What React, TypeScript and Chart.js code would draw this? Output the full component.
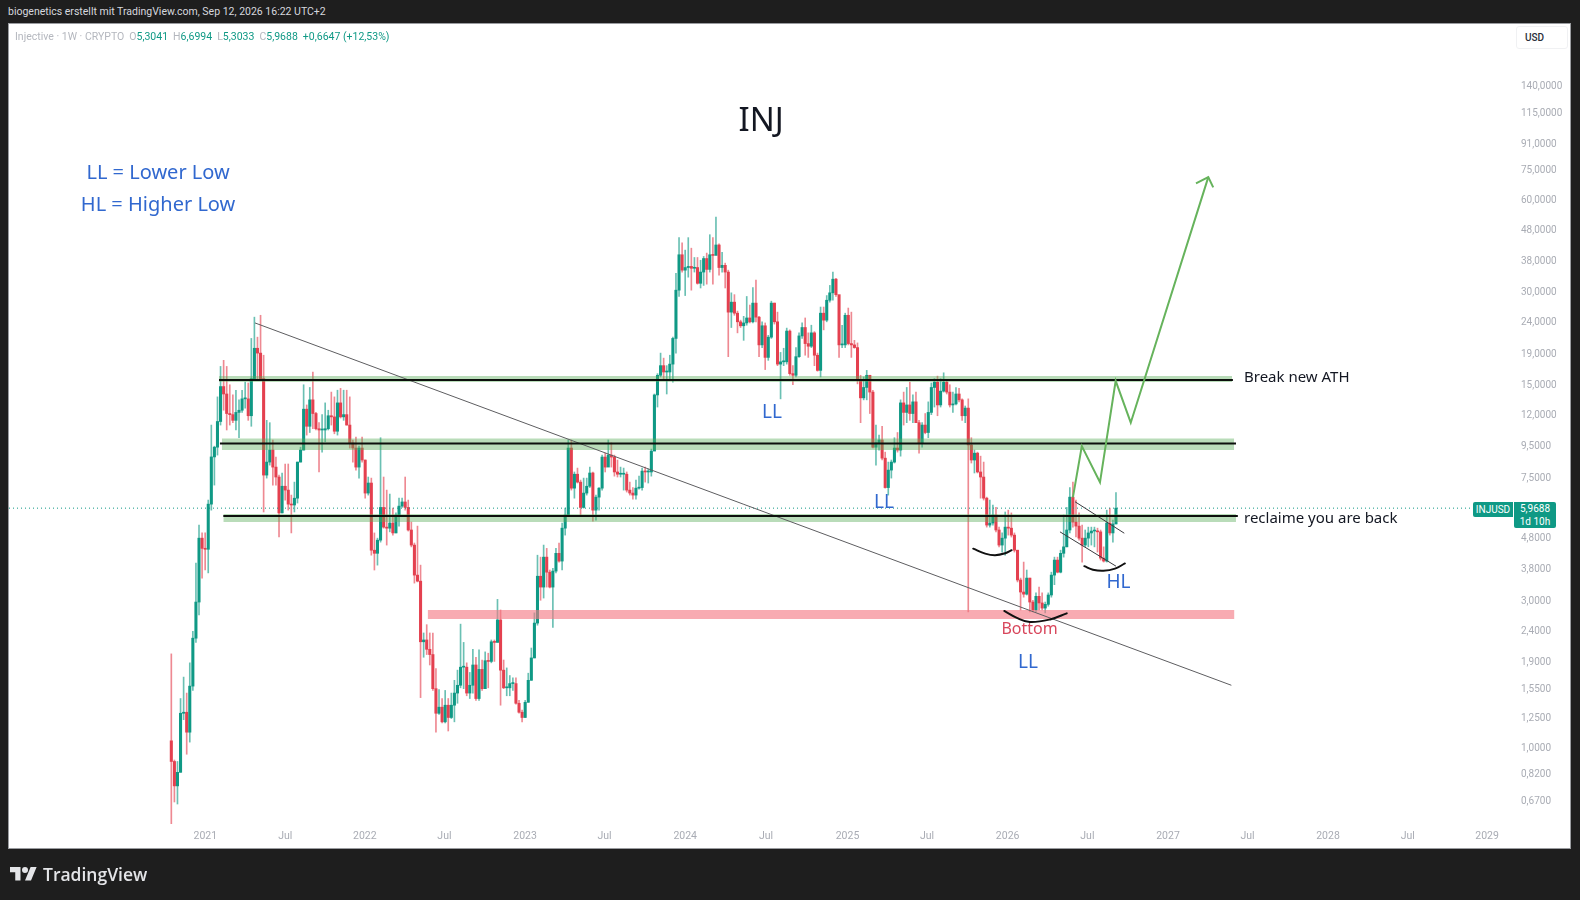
import React, { useEffect, useRef } from "react";
import { Chart, registerables } from "chart.js";

Chart.register(...registerables);

// weekly INJUSD candles (each open is the close before it)
const firstOpen = 1.05;
const closes = [
  0.90, 0.75, 0.83, 1.29, 1.30, 1.12, 1.58, 2.26, 2.96, 4.77,
  4.42, 4.39, 6.15, 8.75, 9.41, 11.4, 14.8, 14.0, 12.1, 12.0,
  11.5, 12.2, 12.4, 13.5, 13.5, 11.9, 15.7, 19.7, 19.0, 15.7,
  7.64, 8.42, 9.21, 8.11, 7.53, 5.76, 7.03, 6.83, 6.15, 6.11,
  6.43, 8.42, 9.21, 12.5, 11.0, 13.4, 12.1, 10.8, 10.7, 10.7,
  10.8, 11.9, 11.8, 10.6, 13.1, 11.8, 12.0, 11.1, 9.72, 9.35,
  8.11, 9.35, 8.55, 6.68, 7.2, 4.36, 4.26, 4.7, 6.0, 5.18,
  5.14, 5.34, 4.96, 5.67, 6.06, 6.25, 6.0, 5.07, 4.53, 3.62,
  3.46, 2.2, 2.23, 2.08, 2.0, 1.55, 1.29, 1.35, 1.21, 1.37,
  1.25, 1.37, 1.5, 1.59, 1.82, 1.82, 1.5, 1.59, 1.85, 1.44,
  1.79, 1.55, 1.91, 1.9, 2.2, 2.19, 2.59, 1.78, 1.56, 1.56,
  1.61, 1.61, 1.39, 1.3, 1.25, 1.4, 1.65, 1.95, 2.53, 3.59,
  3.31, 4.14, 3.7, 3.31, 3.73, 4.26, 4.02, 5.14, 5.67, 9.35,
  6.93, 7.69, 7.25, 6.0, 6.68, 7.03, 7.76, 5.88, 6.48, 6.93,
  8.74, 8.11, 8.87, 8.74, 7.82, 7.69, 7.69, 7.69, 6.83, 6.68,
  6.58, 6.93, 6.96, 7.87, 7.82, 7.82, 9.14, 13.9, 16.1, 17.3,
  16.5, 16.5, 17.5, 21.2, 30.4, 39.6, 35.3, 36.0, 36.3, 35.8,
  36.0, 32.0, 34.8, 38.5, 35.5, 39.6, 39.4, 42.6, 36.0, 36.6,
  34.8, 25.8, 27.8, 25.6, 24.0, 23.3, 23.8, 24.7, 24.0, 27.6,
  24.85, 20.2, 23.3, 18.4, 21.4, 27.6, 24.0, 17.5, 17.8, 17.8,
  22.4, 16.3, 16.1, 18.5, 21.6, 23, 20.4, 20, 22.1, 18.7,
  16.7, 25.6, 24.3, 28.2, 29.8, 33, 29.4, 20.2, 20.2, 25.2,
  20.4, 20.2, 19.8, 15.6, 13.6, 14.7, 16.1, 14.2, 9.41, 9.72,
  9.93, 8.67, 6.96, 7.93, 8.42, 9.35, 9.21, 13.1, 12.2, 12.9,
  12.1, 13.2, 11.3, 9.72, 11.1, 10.5, 12.2, 14.7, 15.3, 12.9,
  14.3, 15.3, 14.2, 12.9, 13, 14, 13.4, 11.9, 12.6, 9.57,
  8.55, 9, 7.82, 7.53, 6.43, 5.26, 5.34, 5.67, 5.07, 4.53,
  4.77, 5.18, 5.14, 4.88, 4.36, 3.49, 3.19, 3.14, 3.54, 2.96,
  2.79, 3.09, 2.94, 2.83, 2.91, 3.12, 3.62, 4.05, 3.7, 4.26,
  4.47, 5.07, 6.48, 5.38, 5.22, 4.77, 4.53, 4.77, 4.96, 5.03,
  5.03, 5, 4.11, 4.02, 5.34, 4.96, 5.3041, 5.9688,
];
const highs = [
  2.01, 0.91, 0.90, 1.44, 1.69, 1.50, 1.88, 2.38, 3.96, 5.26,
  4.96, 4.96, 6.34, 11.1, 9.48, 13.7, 17.2, 18.0, 17.2, 15.0,
  13.9, 14.4, 13.4, 14.4, 15.3, 15.2, 21.2, 24.85, 21.4, 25.2,
  18.7, 11.5, 11.3, 9.93, 8.74, 7.64, 7.76, 8.3, 8.3, 6.58,
  7.25, 8.42, 9.41, 15.0, 12.9, 14.7, 16.5, 12.2, 11.3, 12.0,
  13.1, 12.4, 14.2, 13.7, 14.4, 14.6, 14.4, 14.4, 13.7, 9.93,
  10.15, 9.48, 10.15, 8.55, 7.53, 7.47, 4.96, 4.77, 10.1, 7.53,
  6.83, 6.63, 5.97, 5.76, 6.43, 6.43, 7.53, 6.34, 5.38, 4.6,
  5.22, 3.9, 2.35, 2.5, 2.35, 2.35, 1.8, 1.54, 1.44, 1.53,
  1.44, 1.5, 1.65, 1.78, 2.51, 2.19, 1.88, 1.75, 2.08, 1.96,
  2.07, 1.92, 2.04, 2.02, 2.23, 2.23, 3.02, 2.79, 1.92, 1.81,
  1.71, 1.68, 1.68, 1.42, 1.32, 1.42, 1.74, 2.1, 2.73, 4.2,
  4.14, 4.53, 4.42, 3.76, 3.81, 4.42, 4.6, 5.34, 5.97, 9.93,
  9.93, 7.82, 8.05, 7.36, 7.47, 7.47, 8.11, 7.82, 6.58, 6.96,
  8.87, 9.0, 9.93, 9.72, 8.87, 8.55, 8.11, 8.05, 7.82, 7.25,
  6.96, 7.36, 7.58, 8.05, 8.11, 7.99, 9.28, 14.0, 16.3, 19.0,
  18.3, 17.3, 18.7, 21.4, 34.5, 45.0, 43.3, 41.0, 45.0, 41.6,
  38.8, 38.8, 38.0, 39.1, 40.1, 46.0, 45.0, 52.5, 43, 40.3,
  37.2, 35.3, 29.8, 29.4, 26, 24.3, 25.0, 29.0, 27.2, 31,
  32.8, 25, 24, 23.8, 21.7, 28, 27.6, 25.8, 19.1, 19.7,
  22.9, 22.6, 17.3, 19.8, 22.1, 23.8, 24.7, 22.1, 23.4, 22.3,
  19, 26.8, 26.8, 29.2, 31.5, 34.8, 33.2, 29.2, 23.4, 25.6,
  26.6, 25.8, 20.9, 20.5, 16.1, 15.9, 16.7, 16, 14.4, 11.1,
  10.3, 11, 9.07, 8.42, 8.55, 10.1, 10.5, 13.4, 14.2, 14.7,
  15.3, 13.9, 14.2, 11.5, 11.3, 12.1, 13.2, 15.2, 15.7, 16,
  15.7, 16.4, 15.5, 15, 14.2, 14.7, 14.6, 13.5, 12.8, 13.5,
  10.1, 9.21, 9.07, 8.8, 8.42, 6.48, 6.34, 6.11, 6, 5.18,
  4.96, 5.8, 5.88, 5.76, 4.96, 4.36, 3.54, 3.99, 3.76, 3.54,
  3.0, 3.17, 3.31, 3.17, 2.96, 3.17, 3.7, 4.14, 4.14, 4.36,
  5.67, 6, 6.96, 7.25, 6.34, 5.76, 5.26, 5.07, 5.18, 5.18,
  5.18, 5.14, 5.07, 4.47, 5.88, 5.97, 5.46, 6.6994,
];
const lows = [
  0.565, 0.665, 0.655, 0.83, 1.23, 0.95, 1.04, 1.53, 2.19, 2.69,
  3.54, 3.76, 3.68, 5.88, 7.09, 8.87, 11.1, 12.4, 10.7, 11.1,
  11.3, 10.7, 10.1, 12.2, 12.6, 11.5, 11.0, 15.5, 15.7, 15.5,
  5.8, 7.47, 8.23, 7.09, 7.09, 4.81, 5.76, 6.34, 5.88, 4.96,
  5.8, 6.2, 8.42, 9.21, 10.3, 10.5, 10.8, 10.7, 7.82, 9.07,
  9.8, 10.7, 11.1, 10.4, 10.3, 11.7, 11.5, 11.1, 9.35, 8.42,
  7.93, 7.47, 8.42, 6.43, 6.58, 4.2, 3.76, 3.9, 4.63, 5.14,
  4.53, 5.0, 4.88, 4.96, 5.22, 6.0, 5.88, 5.03, 4.47, 3.41,
  3.44, 1.45, 1.96, 2.0, 1.85, 1.53, 1.12, 1.28, 1.2, 1.2,
  1.13, 1.24, 1.21, 1.39, 1.56, 1.55, 1.47, 1.44, 1.5, 1.42,
  1.42, 1.53, 1.55, 1.56, 1.88, 1.9, 2.19, 1.37, 1.55, 1.47,
  1.47, 1.53, 1.38, 1.29, 1.21, 1.25, 1.4, 1.65, 1.95, 2.49,
  3.0, 3.05, 3.31, 3.29, 2.45, 3.68, 3.99, 3.76, 4.88, 5.63,
  6.83, 6.43, 7.2, 5.63, 5.97, 6.58, 6.96, 5.42, 5.46, 5.88,
  6.83, 7.82, 8.36, 8.11, 7.58, 7.53, 7.53, 6.83, 6.73, 6.58,
  6.38, 6.38, 6.88, 6.83, 7.25, 7.2, 7.58, 9.21, 12.7, 15.9,
  15.5, 14.0, 15.5, 15.3, 19.0, 29.0, 34.8, 29.2, 33.5, 30.4,
  34.8, 31.8, 30.9, 31.5, 31.8, 34.8, 31.8, 40.1, 34, 34.8,
  30.9, 18.5, 23.0, 25.2, 22.1, 23.0, 20.9, 23.4, 23.8, 23.8,
  24.0, 18.5, 19.8, 16.8, 18, 21.2, 23.6, 17.3, 13.5, 17.3,
  17.5, 16.1, 15, 15.9, 18.4, 21.2, 18.7, 18.4, 19.8, 17.3,
  16.6, 15.9, 22.6, 24, 27.8, 28.2, 29, 18.4, 19.8, 19.8,
  20.2, 18.4, 19.7, 15.1, 11.3, 13.4, 13.4, 12.1, 9.35, 8.23,
  9.21, 8.55, 6.93, 6.58, 7.47, 8.36, 9.07, 8.8, 11.1, 11.3,
  11.5, 11.3, 11.3, 9, 9.41, 10.4, 10.1, 12, 12.7, 11.9,
  12.7, 14.2, 14, 12.7, 12.2, 12.9, 13.2, 11.5, 11.3, 2.75,
  8.36, 7.76, 7.76, 6.43, 6.34, 5.18, 5.18, 5.26, 5, 4.47,
  4.3, 4.2, 4.88, 4.81, 4.3, 3.44, 2.79, 3.07, 3.12, 2.75,
  2.75, 2.75, 2.79, 2.79, 2.73, 2.87, 3.07, 3.37, 3.68, 3.68,
  4.14, 4.47, 4.96, 5.18, 4.81, 4.7, 3.99, 4.47, 4.47, 4.53,
  4.47, 4.3, 4.05, 3.99, 3.99, 4.88, 4.63, 5.3033,
];
const opens = closes.map((_, i) => (i === 0 ? firstOpen : closes[i - 1]));

// axes: x is in weeks since the first candle
const weekMin = -52.75;
const weekMax = 433.1;
const priceMin = 0.5642;
const priceMax = 221.9;
const priceTicks = [
  0.67, 0.82, 1, 1.25, 1.55, 1.9, 2.4, 3, 3.8, 4.8, 7.5, 9.5, 12, 15, 19, 24,
  30, 38, 48, 60, 75, 91, 115, 140,
];
const timeTickWeeks = [
  11.05, 37.05, 62.9, 88.75, 114.95, 140.8, 167, 193.25, 219.75, 245.6, 271.8,
  297.7, 323.9, 349.75, 375.9, 401.85, 427.6,
];
const timeTickLabels = [
  "2021", "Jul", "2022", "Jul", "2023", "Jul", "2024", "Jul", "2025", "Jul",
  "2026", "Jul", "2027", "Jul", "2028", "Jul", "2029",
];

// drawings, [week, price]
const athBand = { from: 15.5, to: 344.7, high: 16.0, low: 15.3 };
const midBand = { from: 16.4, to: 345.4, high: 10.05, low: 9.21 };
const reclaimBand = { from: 16.9, to: 346, high: 5.71, low: 5.38 };
const bottomBand = { from: 83.3, to: 345.5, high: 2.79, low: 2.61 };
const athLine = [[15.5, 15.55], [345, 15.55]];
const midLine = [[15.8, 9.68], [346, 9.68]];
const reclaimLine = [[16.9, 5.63], [346.6, 5.63]];
const trendLine = [[27.2, 23.8], [344.5, 1.59]];
const flagTop = [[293.7, 6.26], [309.7, 4.95]];
const flagBottom = [[288.8, 5.0], [307, 3.87]];
const arcLeft = [[260.6, 4.41], [264.5, 4.25], [267.7, 4.2], [271, 4.26], [273.1, 4.36]];
const arcBottom = [[270.7, 2.77], [274.8, 2.63], [279, 2.55], [285.6, 2.6], [291, 2.72]];
const arcRight = [[296.7, 3.87], [299.5, 3.77], [302.9, 3.74], [306.7, 3.8], [309.9, 3.95]];
const forecastPath = [[293, 6.47], [295.9, 9.49], [301.8, 7.24], [306.9, 15.45], [311.8, 11.3], [337, 70.7]];
const forecastHead = [[333, 67.5], [337, 70.7], [338.6, 65.5]];

const BLUE = "#3168cf";
const notes = [
  { text: "INJ", week: 191.7, price: 107, size: 33, color: "#131722", align: "center" },
  { text: "LL = Lower Low", week: -4.3, price: 73, size: 20, color: BLUE, align: "center" },
  { text: "HL = Higher Low", week: -4.3, price: 57.5, size: 20, color: BLUE, align: "center" },
  { text: "LL", week: 195.2, price: 12.2, size: 19, color: BLUE, align: "center" },
  { text: "LL", week: 231.6, price: 6.2, size: 19, color: BLUE, align: "center" },
  { text: "LL", week: 278.4, price: 1.89, size: 19, color: BLUE, align: "center" },
  { text: "HL", week: 307.8, price: 3.43, size: 19, color: BLUE, align: "center" },
  { text: "Bottom", week: 278.9, price: 2.41, size: 16, color: "#d8475c", align: "center" },
  { text: "Break new ATH", week: 348.6, price: 15.85, size: 15, color: "#131722", align: "left" },
  { text: "reclaime you are back", week: 348.6, price: 5.52, size: 15, color: "#131722", align: "left" },
];

const UP = "#0f9985";
const DOWN = "#e4404f";
const UP_WICK = "rgba(15,153,133,0.62)";
const DOWN_WICK = "rgba(228,64,79,0.62)";
const FONT = "Roboto, sans-serif";
const NOTE_FONT = '"Noto Sans", sans-serif';

const formatPrice = (v: number) => v.toFixed(4).replace(".", ",");

const notesPlugin = {
  id: "notes",
  afterDatasetsDraw(chart: any) {
    const { ctx, scales } = chart;
    ctx.save();
    ctx.textBaseline = "middle";
    notes.forEach((n) => {
      ctx.font = `${n.size}px ${NOTE_FONT}`;
      ctx.fillStyle = n.color;
      ctx.textAlign = n.align;
      ctx.fillText(n.text, scales.x.getPixelForValue(n.week), scales.y.getPixelForValue(n.price));
    });
    ctx.restore();
  },
};

const toPoints = (pts: number[][]) => pts.map(([x, y]) => ({ x, y }));

const lineSet = (pts: number[][], color: string, width: number, extra = {}) => ({
  type: "line",
  data: toPoints(pts),
  borderColor: color,
  borderWidth: width,
  pointRadius: 0,
  order: 0,
  ...extra,
});

// bands sit under the black lines but over the candles
const bandSets = (b: any, color: string) => [
  {
    type: "line",
    data: toPoints([[b.from, b.high], [b.to, b.high]]),
    borderWidth: 0,
    pointRadius: 0,
    backgroundColor: color,
    fill: "+1",
    order: 1,
  },
  {
    type: "line",
    data: toPoints([[b.from, b.low], [b.to, b.low]]),
    borderWidth: 0,
    pointRadius: 0,
    order: 1,
  },
];

const BAND_GREEN = "rgba(88,172,88,0.42)";
const BAND_PINK = "rgba(244,120,130,0.62)";
const ARC = { tension: 0.4, borderCapStyle: "round" };
const GREEN = "#66b35c";

const App: React.FC = () => {
  const canvasRef = useRef<HTMLCanvasElement | null>(null);

  useEffect(() => {
    const ctx = canvasRef.current?.getContext("2d");
    if (!ctx) return;

    const chart = new Chart(ctx, {
      type: "bar",
      data: {
        datasets: [
          {
            data: closes.map((_, i) => ({ x: i, y: [lows[i], highs[i]] })),
            backgroundColor: closes.map((c, i) => (c >= opens[i] ? UP_WICK : DOWN_WICK)),
            barThickness: 1,
            order: 3,
          },
          {
            data: closes.map((c, i) => ({ x: i, y: [opens[i], c] })),
            backgroundColor: closes.map((c, i) => (c >= opens[i] ? UP : DOWN)),
            barThickness: 2.4,
            minBarLength: 1,
            order: 2,
          },
          ...bandSets(athBand, BAND_GREEN),
          ...bandSets(midBand, BAND_GREEN),
          ...bandSets(reclaimBand, BAND_GREEN),
          ...bandSets(bottomBand, BAND_PINK),
          lineSet(forecastPath, GREEN, 2),
          lineSet(forecastHead, GREEN, 2),
          lineSet(athLine, "#0c0f0c", 2),
          lineSet(midLine, "#0c0f0c", 2),
          lineSet(reclaimLine, "#0c0f0c", 2),
          lineSet(arcLeft, "#111", 2, ARC),
          lineSet(arcBottom, "#111", 2, ARC),
          lineSet(arcRight, "#111", 2, ARC),
          lineSet(flagTop, "#3a3a3e", 1),
          lineSet(flagBottom, "#3a3a3e", 1),
          lineSet(trendLine, "#5d5d60", 1),
          lineSet([[weekMin, closes[closes.length - 1]], [weekMax, closes[closes.length - 1]]], UP, 1, {
            borderDash: [1, 3],
          }),
        ] as any,
      },
      options: {
        responsive: false,
        animation: false,
        grouped: false,
        layout: { padding: { left: 9, top: 24, right: 10, bottom: 52 } },
        plugins: { legend: { display: false }, tooltip: { enabled: false } },
        scales: {
          x: {
            type: "linear",
            offset: false,
            min: weekMin,
            max: weekMax,
            grid: { display: false, drawTicks: false },
            border: { display: false },
            afterBuildTicks: (s: any) => {
              s.ticks = timeTickWeeks.map((value) => ({ value }));
            },
            afterFit: (s: any) => {
              s.height = 24;
            },
            ticks: {
              autoSkip: false,
              maxRotation: 0,
              padding: 6,
              color: "#a9acb4",
              font: { family: FONT, size: 10.5 },
              callback: (v: any) => timeTickLabels[timeTickWeeks.indexOf(v)],
            },
          },
          y: {
            type: "logarithmic",
            position: "right",
            min: priceMin,
            max: priceMax,
            grid: { display: false, drawTicks: false },
            border: { display: false },
            afterBuildTicks: (s: any) => {
              s.ticks = priceTicks.map((value) => ({ value }));
            },
            afterFit: (s: any) => {
              s.width = 66;
            },
            ticks: {
              autoSkip: false,
              padding: 17,
              labelOffset: 1,
              color: "#a9acb4",
              font: { family: FONT, size: 10 },
              callback: (v: any) => formatPrice(v),
            },
          },
        },
      } as any,
      plugins: [notesPlugin],
    });

    return () => chart.destroy();
  }, []);

  const ohlcStyle = { color: UP, marginRight: 5 };
  return (
    <div style={{ position: "relative", width: 1580, height: 900, background: "#1e1e1e", overflow: "hidden", fontFamily: FONT }}>
      <style>{"body{margin:0}"}</style>
      <div style={{ position: "absolute", left: 8, top: 5, fontSize: 10.5, color: "#d6d8de", whiteSpace: "nowrap" }}>
        biogenetics erstellt mit TradingView.com, Sep 12, 2026 16:22 UTC+2
      </div>
      <div style={{ position: "absolute", left: 9, top: 24, width: 1561, height: 824, background: "#fff", outline: "1px solid #9a9ca0" }} />
      <canvas ref={canvasRef} width={1580} height={900} style={{ position: "absolute", left: 0, top: 0 }} />
      <div style={{ position: "absolute", left: 15, top: 30, fontSize: 10.5, color: "#b4b7be", whiteSpace: "nowrap" }}>
        <span style={{ marginRight: 5 }}>Injective · 1W · CRYPTO</span>
        O<span style={ohlcStyle}>5,3041</span>
        H<span style={ohlcStyle}>6,6994</span>
        L<span style={ohlcStyle}>5,3033</span>
        C<span style={ohlcStyle}>5,9688</span>
        <span style={{ color: UP }}>+0,6647 (+12,53%)</span>
      </div>
      <div style={{ position: "absolute", left: 1516, top: 26, width: 52, height: 23, boxSizing: "border-box", border: "1px solid #f0f1f3", borderRadius: 3, background: "#fff", fontSize: 10, fontWeight: 500, color: "#2a2e39", lineHeight: "22px", paddingLeft: 8 }}>
        USD
      </div>
      <div style={{ position: "absolute", left: 1473, top: 502, width: 40, height: 15, background: UP, borderRadius: "2px 0 0 2px", color: "#fff", fontSize: 10, lineHeight: "15px", textAlign: "center" }}>
        INJUSD
      </div>
      <div style={{ position: "absolute", left: 1514, top: 502, width: 42, height: 26, background: UP, borderRadius: "0 2px 2px 2px", color: "#fff", fontSize: 10, lineHeight: "12.5px", textAlign: "center", paddingTop: 1, boxSizing: "border-box" }}>
        5,9688
        <br />
        1d 10h
      </div>
      <svg viewBox="0 0 36 28" width={27} height={21} style={{ position: "absolute", left: 10, top: 864 }}>
        <path fill="#e4e5e8" d="M14 22H7V11H0V4h14v18zM28 22h-8l7.5-18h8L28 22z" />
        <circle fill="#e4e5e8" cx="20" cy="8" r="4" />
      </svg>
      <div style={{ position: "absolute", left: 43, top: 862, fontSize: 17.5, fontWeight: 600, color: "#e4e5e8", whiteSpace: "nowrap", fontFamily: '"Open Sans", sans-serif' }}>
        TradingView
      </div>
    </div>
  );
};

export default App;
